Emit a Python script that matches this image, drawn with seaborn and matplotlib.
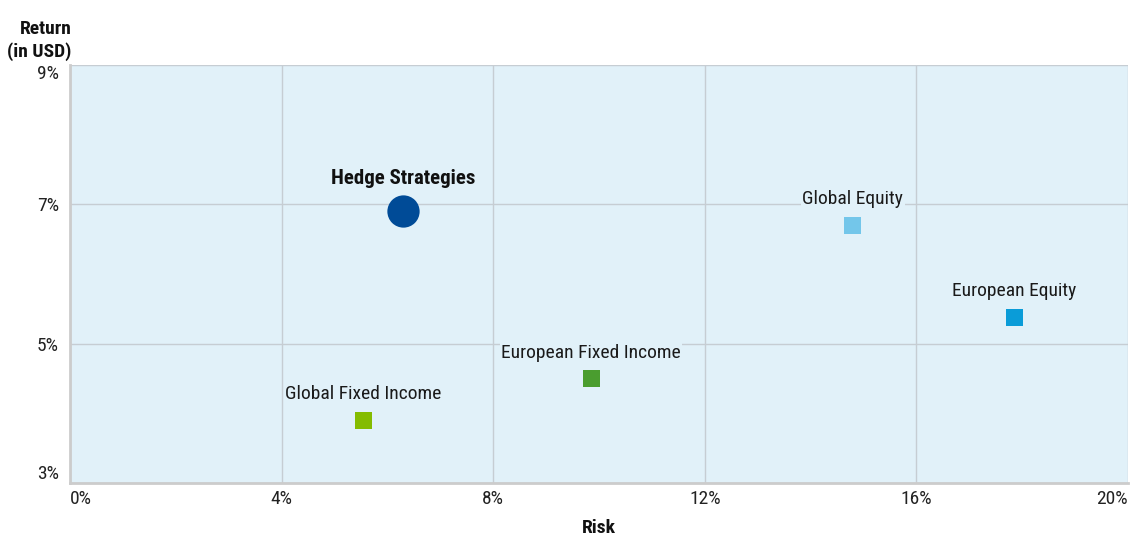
import pandas as pd
import seaborn as sns
import matplotlib.pyplot as plt

names = ["Global Fixed Income", "European Fixed Income", "Global Equity", "European Equity"]
risk = [5.55, 9.85, 14.8, 17.85]
ret = [3.9, 4.5, 6.7, 5.38]
colors = ["#84bc00", "#4a9d2f", "#73c6ea", "#0a9cd8"]

hedge_name = "Hedge Strategies"
hedge_risk = [6.3]
hedge_ret = [6.9]
hedge_color = "#004b97"

xticks = [0, 4, 8, 12, 16, 20]
yticks = [3, 5, 7, 9]

sns.set_style("white")
plt.rcParams['font.family'] = ['Roboto Condensed', 'Liberation Sans Narrow', 'DejaVu Sans']

df = pd.DataFrame({"name": names, "risk": risk, "ret": ret})
hedge_df = pd.DataFrame({"name": [hedge_name], "risk": hedge_risk, "ret": hedge_ret})

bg = "#e1f1f9"
fig = plt.figure(figsize=(11.37, 5.38), dpi=100)
ax = fig.add_axes([0.0616, 0.1022, 0.9304, 0.7768])
ax.set_facecolor(bg)

sns.scatterplot(data=df, x="risk", y="ret", hue="name", palette=colors, marker="s",
                s=150, linewidth=0, legend=False, ax=ax, zorder=3)
sns.scatterplot(data=hedge_df, x="risk", y="ret", color=hedge_color, marker="o",
                s=540, linewidth=0, legend=False, ax=ax, zorder=3)

for n, x, y in zip(names, risk, ret):
    ax.annotate(n, (x, y), xytext=(0, 26), textcoords="offset pixels", ha="center",
                va="center", fontsize=14, color="#1a1a1a", zorder=4,
                bbox=dict(facecolor=bg, edgecolor="none", pad=1))
ax.annotate(hedge_name, (hedge_risk[0], hedge_ret[0]), xytext=(0, 33), textcoords="offset pixels",
            ha="center", va="center", fontsize=15, fontweight="bold", color="#111111", zorder=4,
            bbox=dict(facecolor=bg, edgecolor="none", pad=1))

ax.set_xlim(0, 20)
ax.set_ylim(3, 9)
ax.set_xticks(xticks)
ax.set_yticks(yticks)
ax.set_xticklabels([f"{t}%" for t in xticks], fontsize=14, color="#222222")
ax.set_yticklabels([f"{t}%" for t in yticks], fontsize=14, color="#222222")
xl = ax.get_xticklabels()
xl[0].set_ha("left")
xl[-1].set_ha("right")
yl = ax.get_yticklabels()
yl[0].set_va("bottom")
yl[-1].set_va("top")
ax.tick_params(axis="x", length=0, pad=5)
ax.tick_params(axis="y", length=0, pad=8)

ax.grid(True, color="#c6cdd3", linewidth=1)
ax.set_axisbelow(True)
for side in ["top", "right"]:
    ax.spines[side].set_visible(False)
for side in ["left", "bottom"]:
    ax.spines[side].set_color("#cccccc")
    ax.spines[side].set_linewidth(2)

ax.set_xlabel("Risk", fontsize=14, fontweight="bold", color="#111111", labelpad=8)
ax.set_ylabel("")
fig.text(0.063, 0.925, "Return\n(in USD)", ha="right", va="center", fontsize=14,
         fontweight="bold", color="#111111", linespacing=1.3)

fig.savefig("out.png", dpi=100, facecolor="white")
